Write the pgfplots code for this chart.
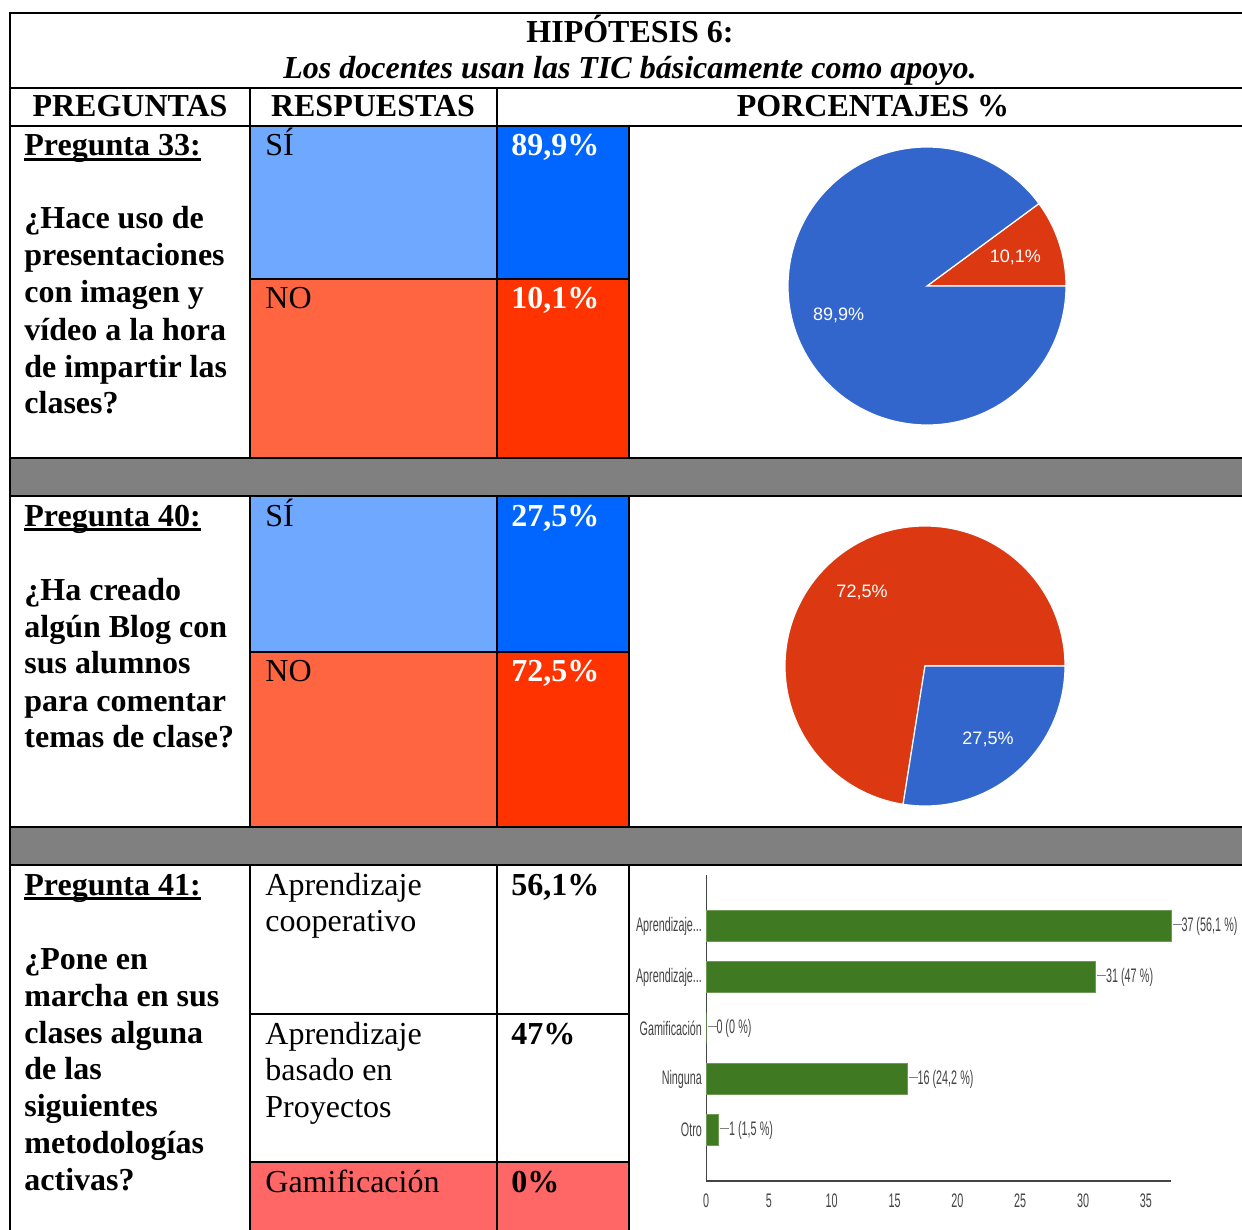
\documentclass[border=0pt]{standalone}
\usepackage{pgfplots}
\pgfplotsset{compat=1.18}
\usepackage{fontspec}
\setmainfont{Liberation Serif}
\newfontfamily\piefont{Liberation Sans}
\newfontfamily\condfont[FakeStretch=0.55]{Liberation Sans}
\definecolor{lblue}{HTML}{6FA8FF}
\definecolor{lred}{HTML}{FF6541}
\definecolor{pblue}{HTML}{0066FF}
\definecolor{pred}{HTML}{FF3300}
\definecolor{gpink}{HTML}{FF6666}
\definecolor{sepgray}{HTML}{808080}
\definecolor{gblue}{HTML}{3366CC}
\definecolor{gred}{HTML}{DC3912}
\definecolor{gbar}{HTML}{3F7A22}
\definecolor{gbarline}{HTML}{6E9A55}
\definecolor{gtext}{HTML}{444444}
\newcommand{\bigfont}{\fontsize{16}{18.5}\selectfont}
\newcommand{\TL}[4][]{\node[anchor=base west,inner sep=0pt,#1] at (#2,#3) {\bigfont #4};}
\newcommand{\TC}[4][]{\node[anchor=base,inner sep=0pt,#1] at (#2,#3) {\bigfont #4};}
\newcommand{\ul}[1]{\setbox0\hbox{#1}\rlap{\rule[-2.6pt]{\wd0}{1.8pt}}\box0}
\newcommand{\aprdots}{Aprendizaje.{}.{}.}
\newcommand{\barfont}{\condfont\fontsize{9.8}{11}\selectfont}
% pie data (percent)
\def\qaSi{89.9}\def\qaNo{10.1}
\def\qbSi{27.5}\def\qbNo{72.5}
\begin{document}
\begin{tikzpicture}
\useasboundingbox (0pt,0pt) rectangle (621pt,-615pt);
\begin{scope}[x=0.5pt,y=-0.5pt]
% fills
\fill[white] (0,0) rectangle (1242,1230);
\fill[lblue] (250,126) rectangle (497,279);
\fill[lred] (250,279) rectangle (497,458);
\fill[pblue] (497,126) rectangle (629,279);
\fill[pred] (497,279) rectangle (629,458);
\fill[lblue] (250,496) rectangle (497,652);
\fill[lred] (250,652) rectangle (497,827);
\fill[pblue] (497,496) rectangle (629,652);
\fill[pred] (497,652) rectangle (629,827);
\fill[gpink] (250,1162) rectangle (629,1232);
\fill[sepgray] (10,458) rectangle (1242,496);
\fill[sepgray] (10,827) rectangle (1242,865);
% lines
\begin{scope}[line width=1.3pt, line cap=rect]
\foreach \yy in {13,88,126,458,496,827,865} {\draw (10,\yy) -- (1245,\yy);}
\foreach \yy in {279,652,1014,1162} {\draw (250,\yy) -- (629,\yy);}
\draw (10,13) -- (10,1235);
\foreach \xx in {250,497} {\draw (\xx,88) -- (\xx,458); \draw (\xx,496) -- (\xx,827); \draw (\xx,865) -- (\xx,1235);}
\draw (629,126) -- (629,458); \draw (629,496) -- (629,827); \draw (629,865) -- (629,1235);
\end{scope}
% title
\TC{630}{43}{\bfseries HIPÓTESIS 6:}
\TC{630}{79}{\bfseries\itshape Los docentes usan las TIC básicamente como apoyo.}
\TC{130}{117}{\bfseries PREGUNTAS}
\TC{373}{117}{\bfseries RESPUESTAS}
\TC{873}{117}{\bfseries PORCENTAJES \%}
% row 1
\TL{24}{156}{\bfseries\ul{Pregunta 33:}}
\TL{24}{229}{\bfseries ¿Hace uso de}
\TL{24}{266}{\bfseries presentaciones}
\TL{24}{303}{\bfseries con imagen y}
\TL{24}{340}{\bfseries vídeo a la hora}
\TL{24}{377}{\bfseries de impartir las}
\TL{24}{413}{\bfseries clases?}
\TL{265}{156}{SÍ}
\TL{265}{308}{NO}
\TL[text=white]{511}{156}{\bfseries 89,9\%}
\TL[text=white]{511}{308}{\bfseries 10,1\%}
% row 2
\TL{24}{526}{\bfseries\ul{Pregunta 40:}}
\TL{24}{600}{\bfseries ¿Ha creado}
\TL{24}{637}{\bfseries algún Blog con}
\TL{24}{673}{\bfseries sus alumnos}
\TL{24}{711}{\bfseries para comentar}
\TL{24}{747}{\bfseries temas de clase?}
\TL{265}{526}{SÍ}
\TL{265}{681}{NO}
\TL[text=white]{511}{526}{\bfseries 27,5\%}
\TL[text=white]{511}{681}{\bfseries 72,5\%}
% row 3
\TL{24}{895}{\bfseries\ul{Pregunta 41:}}
\TL{24}{969}{\bfseries ¿Pone en}
\TL{24}{1006}{\bfseries marcha en sus}
\TL{24}{1043}{\bfseries clases alguna}
\TL{24}{1079}{\bfseries de las}
\TL{24}{1116}{\bfseries siguientes}
\TL{24}{1153}{\bfseries metodologías}
\TL{24}{1190}{\bfseries activas?}
\TL{265}{895}{Aprendizaje}
\TL{265}{931}{cooperativo}
\TL{265}{1044}{Aprendizaje}
\TL{265}{1080}{basado en}
\TL{265}{1117}{Proyectos}
\TL{265}{1192}{Gamificación}
\TL{511}{895}{\bfseries 56,1\%}
\TL{511}{1044}{\bfseries 47\%}
\TL{511}{1192}{\bfseries 0\%}
\end{scope}

% ---------- pie 1 ----------
\begin{axis}[hide axis, scale only axis, width=139pt, height=139pt,
  xmin=-1,xmax=1,ymin=-1,ymax=1, at={(463.5pt,-143pt)}, anchor=center, clip=false]
\addplot[draw=none] coordinates {(0,0)};
\pgfmathsetmacro{\aNo}{3.6*\qaNo}
\fill[gred, draw=white, line width=0.6pt] (axis cs:0,0) -- ++(0:69.5pt) arc[start angle=0, end angle=\aNo, radius=69.5pt] -- cycle;
\fill[gblue, draw=white, line width=0.6pt] (axis cs:0,0) -- ++(\aNo:69.5pt) arc[start angle=\aNo, end angle=360, radius=69.5pt] -- cycle;
\pgfmathsetmacro{\mNo}{\aNo/2}
\pgfmathsetmacro{\mSi}{\aNo+1.8*\qaSi}
\path (axis cs:0,0) ++(\mNo:46.5pt) node[text=white, font=\piefont\fontsize{9}{10}\selectfont] {10,1\%};
\path (axis cs:0,0) ++(\mSi:46.5pt) node[text=white, font=\piefont\fontsize{9}{10}\selectfont] {89,9\%};
\end{axis}

% ---------- pie 2 ----------
\begin{axis}[hide axis, scale only axis, width=140pt, height=140pt,
  xmin=-1,xmax=1,ymin=-1,ymax=1, at={(462.5pt,-333pt)}, anchor=center, clip=false]
\addplot[draw=none] coordinates {(0,0)};
\pgfmathsetmacro{\bSi}{3.6*\qbSi}
\fill[gred, draw=white, line width=0.6pt] (axis cs:0,0) -- ++(0:70pt) arc[start angle=0, end angle=360-\bSi, radius=70pt] -- cycle;
\fill[gblue, draw=white, line width=0.6pt] (axis cs:0,0) -- ++(-\bSi:70pt) arc[start angle=-\bSi, end angle=0, radius=70pt] -- cycle;
\pgfmathsetmacro{\mbSi}{-\bSi/2}
\pgfmathsetmacro{\mbNo}{1.8*\qbNo}
\path (axis cs:0,0) ++(\mbSi:48.5pt) node[text=white, font=\piefont\fontsize{9}{10}\selectfont] {27,5\%};
\path (axis cs:0,0) ++(\mbNo:48.5pt) node[text=white, font=\piefont\fontsize{9}{10}\selectfont] {72,5\%};
\end{axis}

% ---------- bar chart ----------
\begin{axis}[scale only axis, width=232.5pt, height=153pt,
  at={(353pt,-590.5pt)}, anchor=south west,
  xmin=0, xmax=37, ymin=0, ymax=6,
  axis x line=bottom, axis y line=left,
  x axis line style={-, line width=1pt, color=gtext},
  y axis line style={-, line width=0.5pt, color=gtext},
  xtick={0,5,10,15,20,25,30,35}, ytick={1,2,3,4,5},
  yticklabels={Otro,Ninguna,{Gamificación},{\aprdots},{\aprdots}},
  major tick length=0pt,
  /pgf/number format/assume math mode=true,
  tick label style={font=\barfont, text=gtext},
  xticklabel style={yshift=-3pt},
  yticklabel style={xshift=1.5pt},
  clip=false,
  xbar, bar width=15.5pt,
  nodes near coords={\textcolor{gray}{\rule[0.55ex]{4.5pt}{0.6pt}}\pgfplotspointmeta},
  point meta=explicit symbolic,
  every node near coord/.append style={font=\barfont, text=gtext, anchor=west, inner sep=0pt, xshift=0.5pt},
]
\addplot[fill=gbar, draw=gbarline, line width=0.5pt] coordinates {
  (37,5) [37 (56,1\,\%)]
  (31,4) [31 (47\,\%)]
  (0,3) [0 (0\,\%)]
  (16,2) [16 (24,2\,\%)]
  (1,1) [1 (1,5\,\%)]
};
\end{axis}
\end{tikzpicture}
\end{document}
